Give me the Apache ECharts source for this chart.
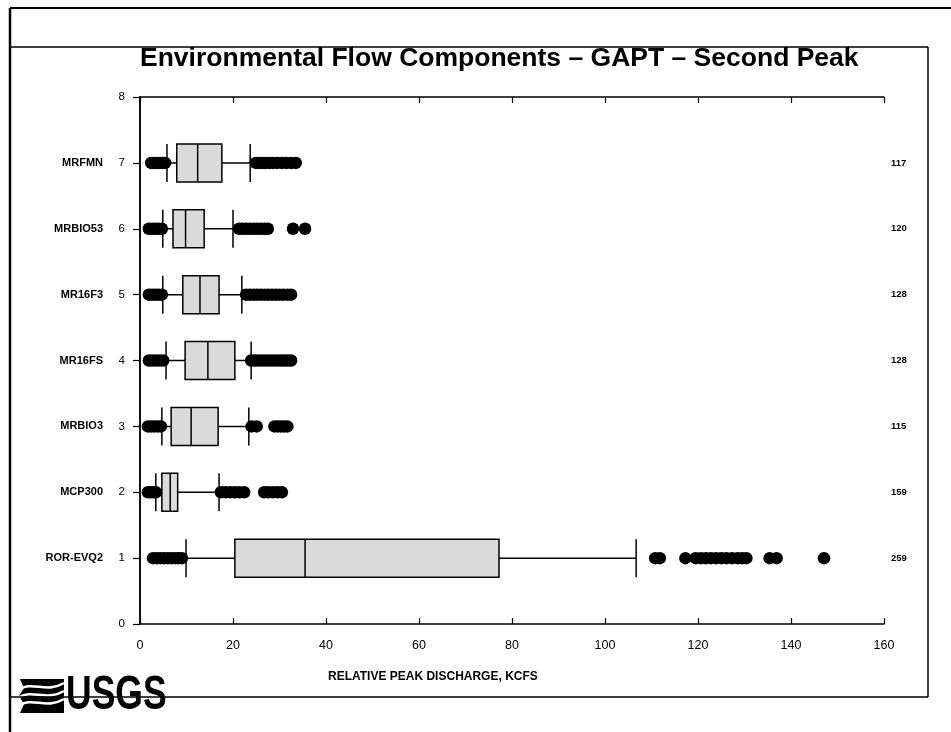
<!DOCTYPE html>
<html><head><meta charset="utf-8">
<script src="https://cdn.jsdelivr.net/npm/echarts@6/dist/echarts.min.js"></script>
<style>html,body{margin:0;padding:0;background:#fff}#c{width:951px;height:732px}</style>
</head><body><div id="c"></div>
<script>
// Category positions on the Y axis (0..8), names shown at 1..7 (bottom to top)
const positions = ['0','1','2','3','4','5','6','7','8'];
const names = ['', 'ROR-EVQ2', 'MCP300', 'MRBIO3', 'MR16FS', 'MR16F3', 'MRBIO53', 'MRFMN', ''];
const counts = ['', '259', '159', '115', '128', '128', '120', '117', ''];
const xTicks = [0, 20, 40, 60, 80, 100, 120, 140, 160];

// Box statistics, in order ROR-EVQ2 .. MRFMN (positions 1..7)
const lowWhisker  = [9.9, 3.4, 4.7, 5.6, 4.9, 4.9, 5.8];
const q1          = [20.4, 4.7, 6.7, 9.7, 9.2, 7.1, 7.9];
const median      = [35.5, 6.5, 11.0, 14.6, 12.9, 9.8, 12.4];
const q3          = [77.2, 8.1, 16.8, 20.4, 17.0, 13.8, 17.6];
const highWhisker = [106.7, 17.0, 23.4, 23.9, 21.9, 20.0, 23.7];

// Outliers per group
const outROR    = [2.8, 3.6, 4.4, 5.2, 6.0, 6.8, 7.6, 8.3, 9.0, 110.8, 111.8, 117.3, 119.5, 120.6, 121.7, 122.8, 123.9, 125.0, 126.1, 127.3, 128.5, 129.5, 130.4, 135.4, 136.9, 147.1];
const outMCP300 = [1.7, 2.3, 2.9, 3.4, 17.4, 18.4, 19.4, 20.4, 21.4, 22.4, 26.7, 27.6, 28.6, 29.6, 30.5];
const outMRBIO3 = [1.7, 2.4, 3.1, 3.8, 4.5, 24.0, 25.1, 28.9, 29.6, 30.3, 31.0, 31.7];
const outMR16FS = [1.9, 2.6, 3.4, 4.2, 5.0, 23.9, 24.7, 25.5, 26.3, 27.1, 27.9, 28.7, 29.5, 30.3, 31.1, 31.8, 32.5];
const outMR16F3 = [1.9, 2.6, 3.3, 4.0, 4.7, 22.8, 23.6, 24.4, 25.2, 26.0, 26.8, 27.6, 28.4, 29.2, 30.0, 30.8, 31.7, 32.5];
const outMRBIO53= [1.9, 2.6, 3.3, 4.0, 4.7, 21.3, 22.0, 22.8, 23.6, 24.4, 25.2, 26.0, 26.8, 27.5, 32.9, 35.5];
const outMRFMN  = [2.4, 3.0, 3.6, 4.2, 4.8, 5.4, 24.9, 25.6, 26.3, 27.0, 27.8, 28.6, 29.5, 30.5, 31.5, 32.5, 33.5];
const outlierGroups = [outROR, outMCP300, outMRBIO3, outMR16FS, outMR16F3, outMRBIO53, outMRFMN];

const boxRows = lowWhisker.map((v, i) => [positions[i + 1], v, q1[i], median[i], q3[i], highWhisker[i]]);
const outlierPoints = [];
outlierGroups.forEach((arr, i) => arr.forEach(v => outlierPoints.push([v, positions[i + 1]])));

const FONT = 'Liberation Sans';
const chart = echarts.init(document.getElementById('c'), null, {renderer: 'canvas'});

const frameLine = (x1, y1, x2, y2, w) => ({
  type: 'line', silent: true, z: 1,
  shape: {x1, y1, x2, y2}, style: {stroke: '#000', lineWidth: w}
});

chart.setOption({
  animation: false,
  backgroundColor: '#fff',
  title: {
    text: 'Environmental Flow Components \u2013 GAPT \u2013 Second Peak',
    left: 140, top: 45, padding: 0,
    textStyle: {fontFamily: FONT, fontSize: 26.5, fontWeight: 'bold', color: '#000'}
  },
  grid: {left: 140, right: 67, top: 97, bottom: 108, containLabel: false},
  dataset: [{dimensions: ['pos', 'low', 'q1', 'med', 'q3', 'high'], source: boxRows}],
  xAxis: [{
    type: 'value', min: 0, max: 160, interval: 20, position: 'bottom',
    axisLine: {show: true, lineStyle: {color: '#000', width: 1.5}},
    axisTick: {show: true, inside: true, length: 6, lineStyle: {color: '#000', width: 1.2}},
    axisLabel: {show: true, margin: 15, color: '#000', fontFamily: FONT, fontSize: 12.5,
      customValues: xTicks},
    splitLine: {show: false}
  }, {
    type: 'value', min: 0, max: 160, interval: 20, position: 'top',
    axisLine: {show: true, lineStyle: {color: '#000', width: 1.5}},
    axisTick: {show: true, inside: true, length: 6, lineStyle: {color: '#000', width: 1.2}},
    axisLabel: {show: false}, splitLine: {show: false}
  }],
  yAxis: [{
    type: 'category', data: positions, boundaryGap: false, position: 'left',
    axisLine: {show: true, lineStyle: {color: '#000', width: 1.5}},
    axisTick: {show: false, inside: true, length: 0},
    minorTick: {show: false},
    axisLabel: {
      show: true, margin: 15, interval: 0, color: '#000',
      formatter: (v) => {
        const n = names[+v];
        return (n ? '{n|' + n + '}' : '') + '{v|' + v + '}';
      },
      rich: {
        n: {fontFamily: FONT, fontSize: 11, fontWeight: 'bold', color: '#000'},
        v: {fontFamily: FONT, fontSize: 11.5, color: '#000', width: 22, align: 'right'}
      }
    },
    splitLine: {show: false}
  }, {
    type: 'category', data: positions, boundaryGap: false, position: 'right',
    axisLine: {show: true, lineStyle: {color: '#000', width: 1.5}},
    axisTick: {show: true, inside: true, length: 7, interval: 0, lineStyle: {color: '#000', width: 1.2}},
    axisLabel: {
      show: true, margin: 7, interval: 0, color: '#000',
      fontFamily: FONT, fontSize: 9.5, fontWeight: 'bold',
      formatter: (v) => counts[+v]
    },
    splitLine: {show: false}
  }],
  series: [{
    type: 'boxplot', datasetIndex: 0, xAxisIndex: 0, yAxisIndex: 0,
    encode: {y: 'pos', x: ['low', 'q1', 'med', 'q3', 'high']},
    boxWidth: [38, 38],
    itemStyle: {color: '#dadada', borderColor: '#000', borderWidth: 1.5},
    emphasis: {disabled: true}, z: 3
  }, {
    type: 'scatter', xAxisIndex: 0, yAxisIndex: 0,
    data: outlierPoints, symbol: 'circle', symbolSize: 12.5,
    itemStyle: {color: '#000', opacity: 1}, z: 4, silent: true
  }],
  graphic: [
    frameLine(10, 8, 951, 8, 2),
    frameLine(10, 8, 10, 732, 2.5),
    frameLine(10, 47, 928, 47, 1.5),
    frameLine(928, 47, 928, 697, 1.5),
    frameLine(10, 697, 928, 697, 1.5),
    {
      type: 'text', left: 328, top: 671, z: 5,
      style: {text: 'RELATIVE PEAK DISCHARGE, KCFS', fontFamily: FONT, fontSize: 12, fontWeight: 'bold', fill: '#000'}
    },
    {
      type: 'group', z: 10, children: [
        {type: 'rect', shape: {x: 17, y: 679, width: 14, height: 34}, style: {fill: '#fff'}},
        {type: 'polygon', shape: {points: [[20,679],[64,679],[64,713],[20,713],[24,704],[19,696],[24,688]]}, style: {fill: '#000'}},
        {type: 'bezierCurve', shape: {x1: 18, y1: 690, x2: 64, y2: 683, cpx1: 32, cpy1: 680, cpx2: 46, cpy2: 694}, style: {stroke: '#fff', lineWidth: 2.6, fill: null}},
        {type: 'bezierCurve', shape: {x1: 18, y1: 698, x2: 64, y2: 691, cpx1: 32, cpy1: 688, cpx2: 46, cpy2: 702}, style: {stroke: '#fff', lineWidth: 2.6, fill: null}},
        {type: 'bezierCurve', shape: {x1: 18, y1: 706, x2: 64, y2: 699, cpx1: 32, cpy1: 696, cpx2: 46, cpy2: 710}, style: {stroke: '#fff', lineWidth: 2.6, fill: null}},
        {type: 'rect', shape: {x: 66, y: 679, width: 105, height: 35}, style: {fill: '#fff'}},
        {type: 'text', x: 66, y: 696, scaleX: 0.74, style: {text: 'USGS', fontFamily: FONT, fontSize: 48, fontWeight: 'bold', fill: '#000', verticalAlign: 'middle'}}
      ]
    }
  ]
});
</script>
</body></html>
